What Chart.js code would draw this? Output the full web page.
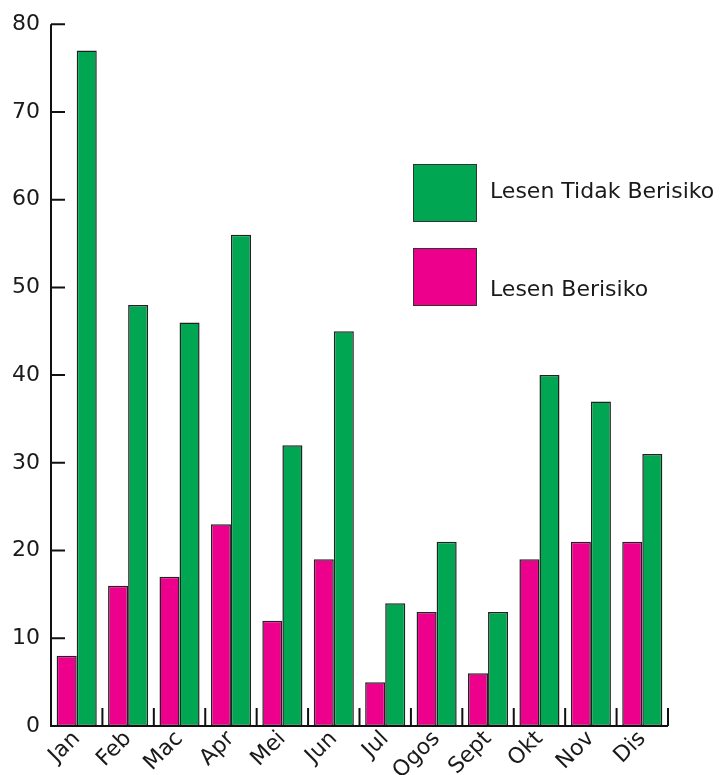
<!DOCTYPE html>
<html>
<head>
  <script src="https://cdn.jsdelivr.net/npm/chart.js"></script>
<title>Lesen</title>
<style>
  body { margin: 0; background: #fff; }
  #wrap { width: 723px; height: 775px; }
</style>
</head>
<body>
<div id="wrap"><canvas id="myChart"></canvas></div>

<script>
const months = ['Jan', 'Feb', 'Mac', 'Apr', 'Mei', 'Jun', 'Jul', 'Ogos', 'Sept', 'Okt', 'Nov', 'Dis'];
const berisiko = [8, 16, 17, 23, 12, 19, 5, 13, 6, 19, 21, 21];
const tidakBerisiko = [77, 48, 46, 56, 32, 45, 14, 21, 13, 40, 37, 31];
const yTicks = [0, 10, 20, 30, 40, 50, 60, 70, 80];

const pink = '#EC008C';
const green = '#00A651';
const fontName = 'DejaVu Sans';

// axes with inward ticks, drawn from the scales
const axesPlugin = {
  id: 'axes',
  afterDatasetsDraw(chart) {
    const ctx = chart.ctx;
    const x = chart.scales.x, y = chart.scales.y;
    const a = chart.chartArea;
    ctx.save();
    ctx.strokeStyle = '#111';
    ctx.lineWidth = 2;
    ctx.beginPath();
    ctx.moveTo(a.left, y.getPixelForValue(80));
    ctx.lineTo(a.left, a.bottom);
    ctx.lineTo(a.right, a.bottom);
    yTicks.forEach(v => {
      const py = y.getPixelForValue(v);
      ctx.moveTo(a.left, py);
      ctx.lineTo(a.left + 14, py);
    });
    const step = (a.right - a.left) / months.length;
    for (let i = 1; i <= months.length; i++) {
      const px = a.left + step * i;
      ctx.moveTo(px, a.bottom);
      ctx.lineTo(px, a.bottom - 18);
    }
    ctx.stroke();
    ctx.restore();
  },
  afterDraw(chart) {
    const ctx = chart.ctx;
    const items = [
      {ds: chart.data.datasets[1], box: [413, 164], ty: 192},
      {ds: chart.data.datasets[0], box: [413, 248], ty: 290}
    ];
    ctx.save();
    items.forEach(it => {
      ctx.fillStyle = it.ds.backgroundColor;
      ctx.strokeStyle = '#333';
      ctx.lineWidth = 1;
      ctx.fillRect(it.box[0], it.box[1], 63, 57);
      ctx.strokeRect(it.box[0] + 0.5, it.box[1] + 0.5, 63, 57);
      ctx.fillStyle = '#1a1a1a';
      ctx.font = '22px ' + fontName;
      ctx.textBaseline = 'middle';
      ctx.textAlign = 'left';
      ctx.fillText(it.ds.label, 490, it.ty);
    });
    ctx.restore();
  }
};

const ctx = document.getElementById('myChart');
const chart = new Chart(ctx, {
  type: 'bar',
  data: {
    labels: months,
    datasets: [{
      label: 'Lesen Berisiko',
      data: berisiko,
      backgroundColor: pink,
      borderColor: '#222',
      borderWidth: 1.5,
      borderSkipped: false
    }, {
      label: 'Lesen Tidak Berisiko',
      data: tidakBerisiko,
      backgroundColor: green,
      borderColor: '#222',
      borderWidth: 1.5,
      borderSkipped: false
    }]
  },
  options: {
    responsive: true,
    maintainAspectRatio: false,
    animation: false,
    datasets: {
      bar: {
        categoryPercentage: 0.78,
        barPercentage: 1.0
      }
    },
    layout: {
      padding: {top: 23, right: 55, left: 0, bottom: 0}
    },
    scales: {
      x: {
        grid: {display: false, drawTicks: false},
        border: {display: false},
        afterFit(scale) { scale.height = 49; },
        ticks: {
          autoSkip: false,
          minRotation: 45,
          maxRotation: 45,
          padding: 0,
          color: '#1a1a1a',
          font: {family: fontName, size: 22}
        }
      },
      y: {
        min: 0,
        max: 80,
        grid: {display: false, drawTicks: false},
        border: {display: false},
        afterFit(scale) { scale.width = 51; },
        afterBuildTicks(scale) { scale.ticks = yTicks.map(v => ({value: v})); },
        ticks: {
          padding: 11,
          color: '#1a1a1a',
          font: {family: fontName, size: 22}
        }
      }
    },
    plugins: {
      legend: {display: false},
      tooltip: {enabled: false}
    }
  },
  plugins: [axesPlugin]
});
</script>
</body>
</html>
